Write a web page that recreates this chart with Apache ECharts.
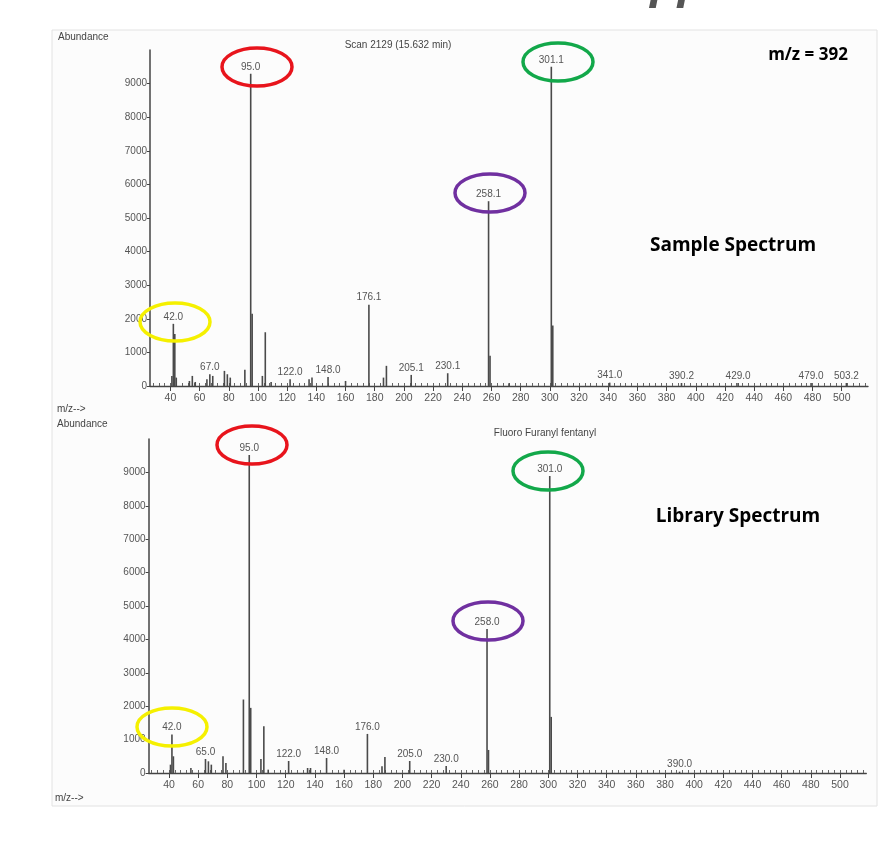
<!DOCTYPE html>
<html>
<head>
<meta charset="utf-8">
<script src="https://cdn.jsdelivr.net/npm/echarts@6/dist/echarts.min.js"></script>
<style>
  html, body { margin: 0; padding: 0; background: #fff; }
  #chart { width: 883px; height: 847px; }
</style>
</head>
<body>
<div id="chart"></div>
<script>
// sample spectrum (scan 2129)
const sampleMz = [41, 42, 43, 44, 53, 55, 57, 65, 67, 69, 77, 79, 81, 91, 95, 96, 103, 105, 109, 122, 135, 137, 148, 160, 176, 186, 188, 205, 230, 258, 259, 272, 301, 302, 341, 390.2, 429, 479, 503.2];
const sampleAb = [300, 1850, 1550, 250, 150, 300, 120, 200, 350, 300, 450, 350, 250, 480, 9290, 2150, 300, 1600, 120, 200, 200, 250, 270, 150, 2420, 250, 600, 330, 380, 5500, 900, 80, 9500, 1800, 100, 90, 90, 90, 90];
const sampleTag = ['', '42.0', '', '', '', '', '', '', '67.0', '', '', '', '', '', '95.0', '', '', '', '', '122.0', '', '', '148.0', '', '176.1', '', '', '205.1', '230.1', '258.1', '', '', '301.1', '', '341.0', '390.2', '429.0', '479.0', '503.2'];

// library spectrum (Fluoro Furanyl fentanyl)
const libMz = [41, 42, 43, 55, 65, 67, 69, 77, 79, 91, 95, 96, 103, 105, 108, 122, 135, 137, 148, 160, 176, 186, 188, 205, 230, 258, 259, 301, 302, 390];
const libAb = [250, 1150, 500, 150, 420, 350, 250, 500, 300, 2200, 9520, 1950, 420, 1400, 100, 360, 150, 150, 450, 100, 1170, 200, 480, 360, 210, 4310, 690, 8890, 1680, 40];
const libTag = ['', '42.0', '', '', '65.0', '', '', '', '', '', '95.0', '', '', '', '', '122.0', '', '', '148.0', '', '176.0', '', '', '205.0', '230.0', '258.0', '', '301.0', '', '390.0'];

const majorTicks = [40, 60, 80, 100, 120, 140, 160, 180, 200, 220, 240, 260, 280, 300, 320, 340, 360, 380, 400, 420, 440, 460, 480, 500];
const minorTicks = [];
for (let v = 28; v <= 516; v += 4) minorTicks.push(v);

const grey = '#555';
const txtFont = 'Liberation Sans';

function peaks(mz, ab, tag) {
  return mz.map((m, i) => ({
    value: [m, ab[i]],
    label: { show: tag[i] !== '', formatter: tag[i] }
  }));
}

function xAxes(g) {
  return [
    {
      gridIndex: g, type: 'value', min: 26, max: 518, position: 'bottom',
      axisLine: { lineStyle: { color: '#444', width: 1.3 } },
      axisTick: { customValues: majorTicks, length: 5, lineStyle: { color: '#444' } },
      axisLabel: { customValues: majorTicks, color: grey, fontSize: 10.5, fontFamily: txtFont, margin: 7 },
      splitLine: { show: false }
    },
    {
      gridIndex: g, type: 'value', min: 26, max: 518, position: 'bottom',
      axisLine: { show: false },
      axisTick: { customValues: minorTicks, inside: true, length: 3, lineStyle: { color: '#666' } },
      axisLabel: { show: false },
      splitLine: { show: false }
    }
  ];
}

function yAxis(g) {
  return {
    gridIndex: g, type: 'value', min: 0, max: 10000, interval: 1000,
    axisLine: { show: true, lineStyle: { color: '#444', width: 1.5 } },
    axisTick: { show: true, length: 3, lineStyle: { color: '#444' } },
    axisLabel: { showMaxLabel: false, color: grey, fontSize: 10, fontFamily: txtFont, margin: 3, formatter: v => String(v) },
    splitLine: { show: false }
  };
}

function stickSeries(xi, yi, data) {
  return {
    type: 'bar', xAxisIndex: xi, yAxisIndex: yi, barWidth: 1.6,
    itemStyle: { color: '#4a4a4a' },
    label: { position: 'top', distance: 2, color: grey, fontSize: 10, fontFamily: txtFont },
    data: data
  };
}

function small(text, x, y, align) {
  return { type: 'text', x: x, y: y, style: { text: text, fill: '#444', font: '10px "Liberation Sans"', align: align || 'left', verticalAlign: 'middle' } };
}
function bold(text, x, y, size) {
  return { type: 'text', x: x, y: y, style: { text: text, fill: '#000', font: 'bold ' + size + 'px "Open Sans"', align: 'center', verticalAlign: 'middle' } };
}
function ring(cx, cy, color) {
  return { type: 'ellipse', z: 100, shape: { cx: cx, cy: cy, rx: 35, ry: 19 }, style: { fill: 'none', stroke: color, lineWidth: 3.5 } };
}

const chart = echarts.init(document.getElementById('chart'));
chart.setOption({
  animation: false,
  backgroundColor: '#fff',
  grid: [
    { left: 150, top: 50, width: 718, height: 336 },
    { left: 148.6, top: 439, width: 717.7, height: 334 }
  ],
  xAxis: xAxes(0).concat(xAxes(1)),
  yAxis: [yAxis(0), yAxis(1)],
  series: [
    stickSeries(0, 0, peaks(sampleMz, sampleAb, sampleTag)),
    stickSeries(2, 1, peaks(libMz, libAb, libTag))
  ],
  graphic: [
    { type: 'rect', z: -100, shape: { x: 52, y: 30, width: 825, height: 776 }, style: { fill: '#fcfcfc', stroke: '#e2e2e2', lineWidth: 1 } },
    { type: 'text', x: 678, y: 7, style: { text: 'pp', fill: '#555', font: 'italic bold 46px "Open Sans"', align: 'center', verticalAlign: 'bottom' } },
    small('Abundance', 58, 37),
    small('Scan 2129 (15.632 min)', 398, 45, 'center'),
    small('m/z-->', 57, 409),
    small('Abundance', 57, 424),
    small('Fluoro Furanyl fentanyl', 545, 433, 'center'),
    small('m/z-->', 55, 798),
    bold('m/z = 392', 808, 55, 17),
    bold('Sample Spectrum', 733, 246, 19),
    bold('Library Spectrum', 738, 517, 19),
    ring(257, 67, '#e8141c'),
    ring(558, 62, '#12a84a'),
    ring(490, 193, '#7030a0'),
    ring(175, 322, '#f5f000'),
    ring(252, 445, '#e8141c'),
    ring(548, 471, '#12a84a'),
    ring(488, 621, '#7030a0'),
    ring(172, 727, '#f5f000')
  ]
});
</script>
</body>
</html>
